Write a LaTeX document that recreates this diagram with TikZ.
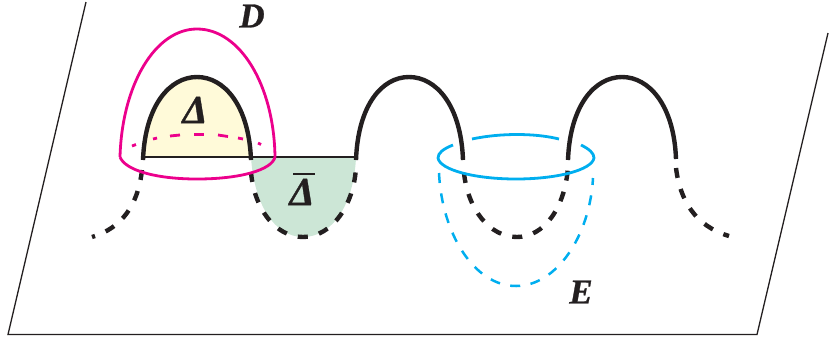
\documentclass[tikz,border=0pt]{standalone}
\usepackage{fontspec}
\setmainfont{Liberation Serif}
\newfontfamily\labfont[BoldItalicFont={Liberation Serif Bold Italic},FakeBold=0.8]{Liberation Serif Bold Italic}
\definecolor{pinkc}{HTML}{EC008C}
\definecolor{bluec}{HTML}{00AEEF}
\definecolor{yel}{HTML}{FFFAD9}
\definecolor{grn}{HTML}{CCE6D6}
\definecolor{blk}{HTML}{231F20}
\tikzset{
 plane/.style={blk,line width=1.3pt},
 arc/.style={blk,line width=4.4pt},
 under/.style={blk,line width=4.4pt,dash pattern=on 10pt off 11.5pt},
 base/.style={blk,line width=1.8pt},
 pinkl/.style={pinkc,line width=2.8pt},
 bluel/.style={bluec,line width=2.8pt},
 pinkd/.style={pinkc,line width=2.8pt},
 blued/.style={bluec,line width=2.5pt,dash pattern=on 10pt off 10.5pt},
 lab/.style={font=\labfont\fontsize{35}{35}\selectfont,blk,inner sep=0pt},
 labg/.style={font=\labfont\fontsize{40}{40}\selectfont,blk,inner sep=0pt}
}
\begin{document}
\begin{tikzpicture}[x=1pt,y=-1pt]
\useasboundingbox (0,0) rectangle (829,341);
% plane
\draw[plane] (86,2) -- (8,334.5) -- (757,334.5) -- (828,33);
% fills
\fill[yel] (143,157) .. controls (145,105) and (170,77) .. (197,77) .. controls (224,77) and (249,105) .. (251,157) -- cycle;
\fill[grn] (251,157) .. controls (254,205) and (275,237) .. (303,237) .. controls (332,237) and (354,205) .. (356,157) -- cycle;
% base line
\draw[base] (143,157) -- (356,157);
% pink hidden arc, behind the arches
\draw[pinkd] (132,146) -- (136,144.5);
\draw[pinkd] (153,139) -- (157,138);
\draw[pinkd] (170,136) -- (180,135);
\draw[pinkd] (194,134.5) -- (204,134.5);
\draw[pinkd] (218,135) -- (228,136.5);
\draw[pinkd] (238,138) -- (243,139);
\draw[pinkd] (258,143) -- (261,144.5);
% solid arches
\draw[arc] (143,160) .. controls (145,105) and (170,77) .. (197,77) .. controls (224,77) and (249,105) .. (251,160);
\draw[arc] (356,160) .. controls (358,105) and (382,77) .. (409,77) .. controls (436,77) and (461,105) .. (463,160);
\draw[arc] (568,160) .. controls (570,105) and (595,77) .. (622,77) .. controls (649,77) and (674,105) .. (676,159);
% dashed arcs
\draw[under] (142,170) .. controls (138,205) and (122,228) .. (92,237);
\draw[under] (251,172) .. controls (254,208) and (275,237) .. (303,237) .. controls (332,237) and (354,205) .. (356,167);
\draw[under] (464,173) .. controls (468,210) and (490,237) .. (517,237) .. controls (544,237) and (565,208) .. (568,167);
\draw[under] (676,168) .. controls (680,200) and (695,226) .. (729,236);
% pink curve D
\draw[pinkl,line join=round] (120,157) .. controls (122,85) and (155,29) .. (197,29) .. controls (240,29) and (274,85) .. (275,157) .. controls (272,170) and (240,179) .. (197,179) .. controls (155,179) and (125,170) .. (120,157);
% blue curve E
\draw[bluel] (453,145) .. controls (443,149) and (438,153) .. (438,158) .. controls (440,170) and (475,179) .. (516,179) .. controls (557,179) and (592,170) .. (594,158) .. controls (594,153) and (589,149) .. (581,145);
\draw[bluel] (472,139) .. controls (500,133) and (535,133) .. (559,139);
\draw[blued] (439,173) .. controls (442,235) and (475,286) .. (516,286) .. controls (557,286) and (590,235) .. (593,178);
% labels
\node[lab] (labD) at (252,16) {D};
\node[lab] (labE) at (581,292) {E};
\node[labg] (labA) at (195,110) {Δ};
\node[labg] (labB) at (302,192) {Δ};
\draw[blk,line width=2.6pt] (293,174) -- (315,174);
\end{tikzpicture}
\end{document}
